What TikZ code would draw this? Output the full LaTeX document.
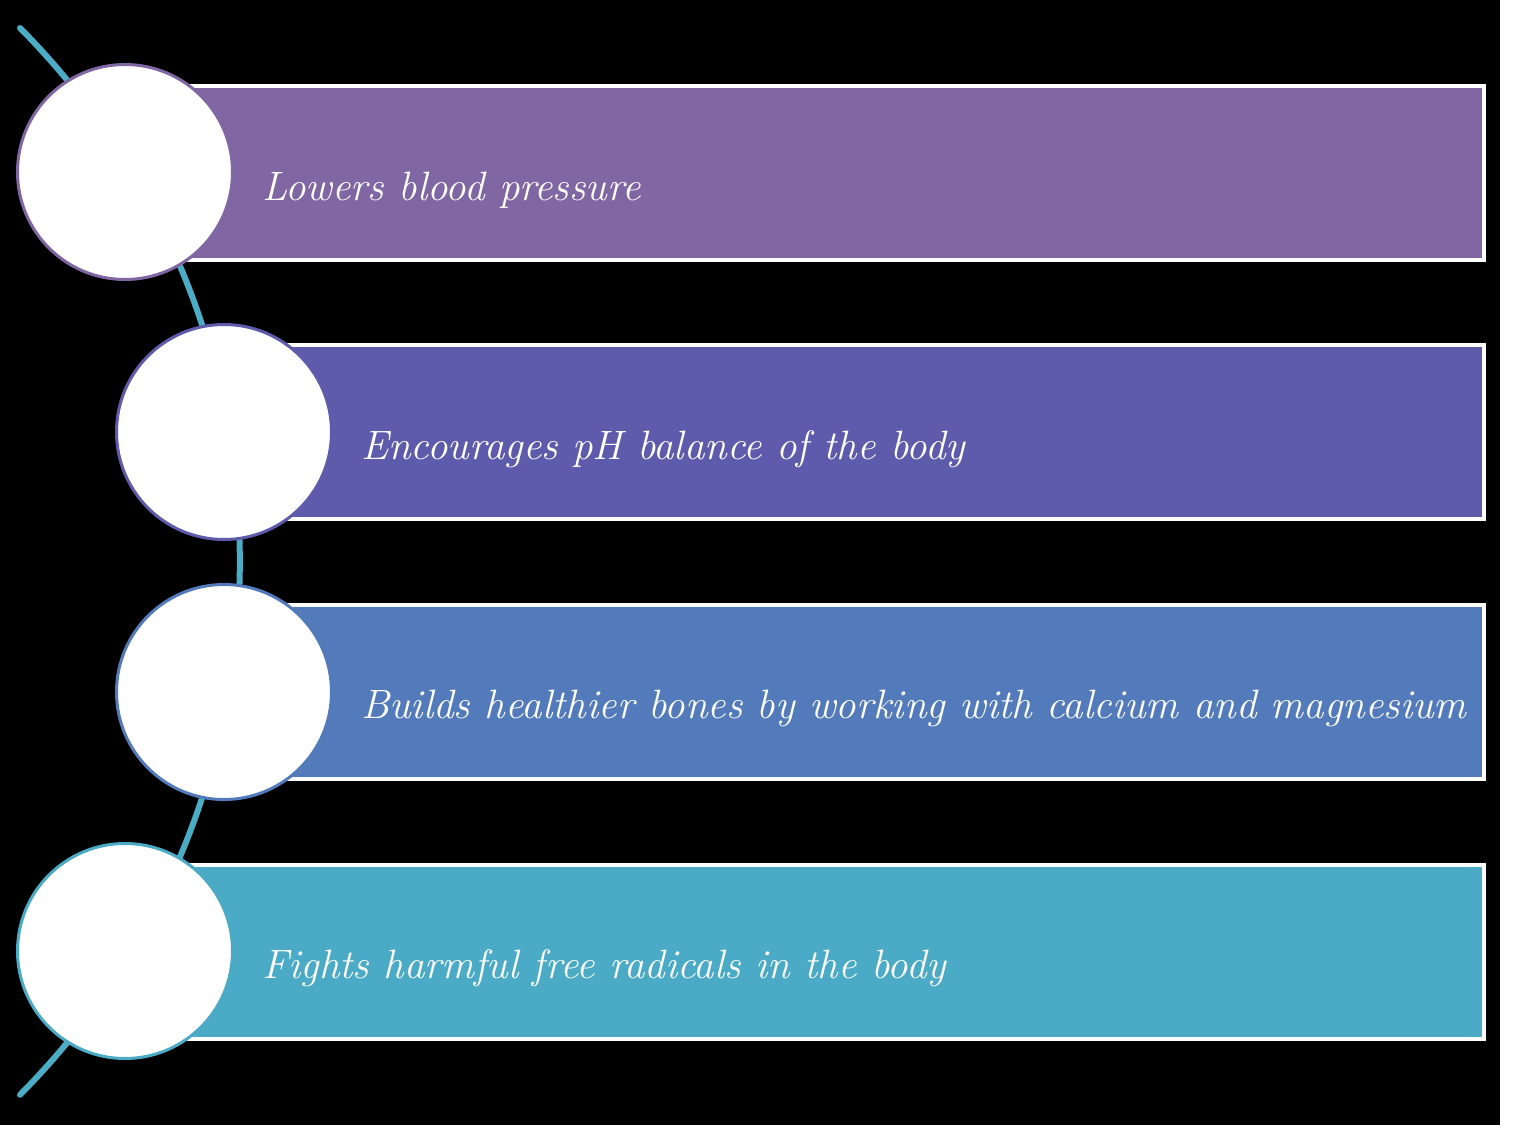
\documentclass[tikz,border=0pt]{standalone}
\usepackage{fontspec}
\definecolor{cA}{HTML}{8066A2}
\definecolor{cB}{HTML}{5F5BAC}
\definecolor{cC}{HTML}{537BBB}
\definecolor{cD}{HTML}{4BAAC6}
\definecolor{arcc}{HTML}{4BACC6}
\tikzset{
  bar/.style={draw=white, line width=4pt, fill=#1},
  disc/.style={circle, draw=#1, line width=3pt, fill=white, minimum size=215pt, inner sep=0pt},
  lbl/.style={anchor=base west, text=white, inner sep=0pt, font=\fontsize{41}{45}\selectfont\itshape}
}
\begin{document}
\begin{tikzpicture}[x=1pt,y=-1pt]
\useasboundingbox (0,0) rectangle (1516,1125);
\fill[white] (0,0) rectangle (1516,1125);
\fill[black] (0,0) rectangle (1500,1125);
% curved spine
\coordinate (s) at (20,28);
\draw[arcc, line width=6pt, line cap=round] (s) arc[start angle=-44.8, end angle=44.8, radius=757];
% bars
\draw[bar=cA] (125,86) rectangle (1484,260) coordinate (r1);
\draw[bar=cB] (224,345) rectangle (1484,519) coordinate (r2);
\draw[bar=cC] (224,605) rectangle (1484,779) coordinate (r3);
\draw[bar=cD] (125,865) rectangle (1484,1039) coordinate (r4);
% circles
\node[disc=cA] (c1) at (125,172) {};
\node[disc=cB] (c2) at (224,432) {};
\node[disc=cC] (c3) at (224,692) {};
\node[disc=cD] (c4) at (125,951) {};
% labels
\node[lbl] (t1) at (262,200) {Lowers blood pressure};
\node[lbl] (t2) at (361,459) {Encourages pH balance of the body};
\node[lbl] (t3) at (361,718) {Builds healthier bones by working with calcium and magnesium};
\node[lbl] (t4) at (262,978) {Fights harmful free radicals in the body};
\end{tikzpicture}
\end{document}
